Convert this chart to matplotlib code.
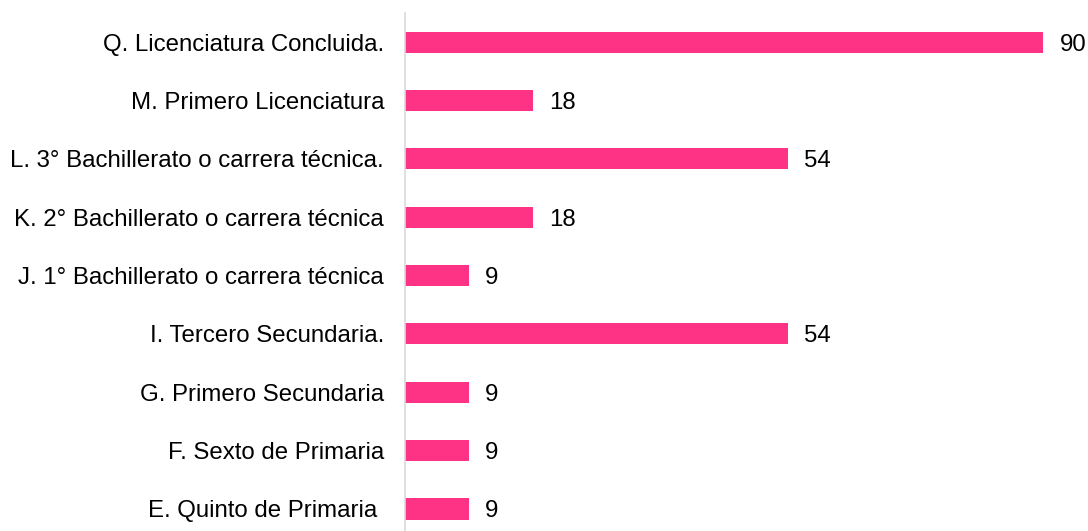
import matplotlib
matplotlib.use("Agg")
import matplotlib.pyplot as plt

plt.rcParams['font.family'] = ['Liberation Sans', 'DejaVu Sans']

# school levels, bottom to top
levels = [
    "E. Quinto de Primaria ",
    "F. Sexto de Primaria",
    "G. Primero Secundaria",
    "I. Tercero Secundaria.",
    "J. 1° Bachillerato o carrera técnica",
    "K. 2° Bachillerato o carrera técnica",
    "L. 3° Bachillerato o carrera técnica.",
    "M. Primero Licenciatura",
    "Q. Licenciatura Concluida.",
]
counts = [9, 9, 9, 54, 9, 18, 54, 18, 90]

fig = plt.figure(figsize=(10.88, 5.31), dpi=100)
ax = fig.add_axes([0.3722, 0.0, 0.6195, 0.9755])

bars = ax.barh(range(len(levels)), counts, height=0.36, color='#FF3385')
value_labels = ax.bar_label(bars, labels=[str(c) for c in counts],
                            padding=11.5, fontsize=17.3, color='#000000')
for t in value_labels:
    t.set_verticalalignment('center_baseline')

ax.set_xlim(0, 95)
ax.set_ylim(-0.377, 8.497)
ax.set_yticks(range(len(levels)))
ax.set_yticklabels(levels, fontsize=17.3)
ax.tick_params(axis='y', length=0, pad=15)
ax.set_xticks([])

for side in ['top', 'right', 'bottom']:
    ax.spines[side].set_visible(False)
ax.spines['left'].set_color('#D9D9D9')
ax.spines['left'].set_linewidth(1.2)

fig.savefig("out.png", dpi=100)
